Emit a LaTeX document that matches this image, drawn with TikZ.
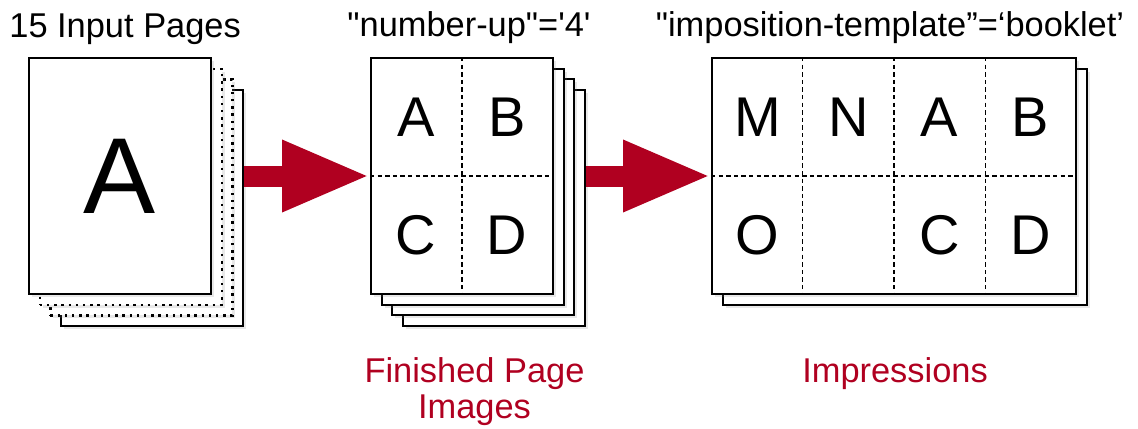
\documentclass[tikz,border=0pt]{standalone}
\usepackage{fontspec}
\newfontfamily\arial{Liberation Sans}
\usetikzlibrary{arrows.meta,shadows,calc}
\definecolor{impred}{RGB}{176,0,32}
\tikzset{
	sheet/.style={draw,fill=white,line width=1pt,inner sep=0pt,
		minimum width=91pt,minimum height=118pt,
		drop shadow={shadow xshift=1.5pt,shadow yshift=-1.5pt,opacity=0.18}},
	widesheet/.style={sheet,minimum width=182pt},
	dotsheet/.style={sheet,line width=1.2pt,dash pattern=on 1.2pt off 2.4pt},
	foldline/.style={line width=0.65pt,dash pattern=on 2.2pt off 1.6pt},
	letter/.style={font=\arial\fontsize{28}{30}\selectfont},
	heading/.style={font=\arial\fontsize{17.2}{18}\selectfont,inner sep=0pt},
	flow/.style={impred,line width=10.5pt,-{Triangle[length=44pt,width=33pt]}}
}
\begin{document}
\begin{tikzpicture}[
	%pixel grid of the reference
	x=0.5pt,y=-0.5pt
	]
	\useasboundingbox (0,0) rectangle (1138,428);
	
	% input pages
	\foreach \n/\s/\d in {4/sheet/32.1,3/dotsheet/21.4,2/dotsheet/10.7}
		\node[\s] (in\n) at (120+\d,176+\d) {};
	\node[sheet,font=\arial\fontsize{54}{60}\selectfont] (in1) at (120,176) {A};
	
	% number-up pages
	\foreach \n/\d in {4/32.1,3/21.4,2/10.7}
		\node[sheet] (up\n) at (462+\d,176+\d) {};
	\node[sheet] (up1) at (462,176) {};
	\draw[foldline] (up1.north) -- (up1.south);
	\draw[foldline] (up1.west) -- (up1.east);
	\foreach \c/\x/\y in {A/416/117,B/507/117,C/416/235,D/507/235}
		\node[letter] (up\c) at (\x,\y) {\c};
	
	% impressions
	\node[widesheet] (imp2) at (905,187) {};
	\node[widesheet] (imp1) at (894,176) {};
	\draw[foldline] (imp1.west) -- (imp1.east);
	\foreach \f in {0.25,0.5,0.75}
		\draw[foldline] ($(imp1.north west)!\f!(imp1.north east)$) -- ($(imp1.south west)!\f!(imp1.south east)$);
	\foreach \c/\x/\y in {M/757.5/117,N/848.5/117,A/939.5/117,B/1030.5/117,O/757.5/235,C/939.5/235,D/1030.5/235}
		\node[letter] (imp\c) at (\x,\y) {\c};
	
	% arrows
	\draw[flow] (in1.east -| in4.east) -- (up1.west);
	\draw[flow] (up1.east -| up4.east) -- (imp1.west);
	
	% texts
	\node[heading,anchor=base west] (intitle) at (9,37) {15 Input Pages};
	\node[heading,anchor=base] (uptitle) at (469,36) {"number-up"='4'};
	\node[heading,anchor=base] (imptitle) at (890,36) {"imposition-template”=‘booklet’};
	\node[heading,impred,align=center,anchor=north] (upname) at (474.5,357) {Finished Page\\Images};
	\node[heading,impred,anchor=base] (impname) at (895,382) {Impressions};
\end{tikzpicture}
\end{document}
